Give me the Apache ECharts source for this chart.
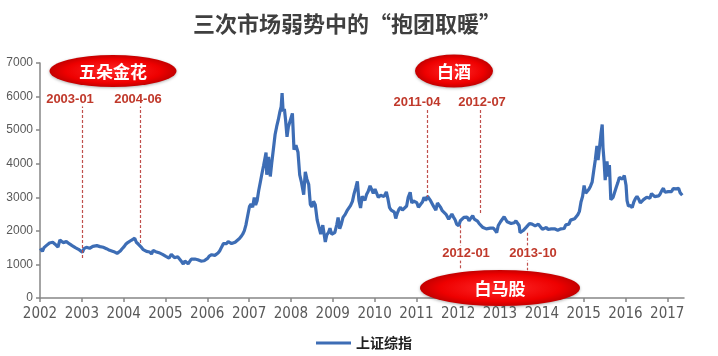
<!DOCTYPE html>
<html><head><meta charset="utf-8">
<script src="https://cdn.jsdelivr.net/npm/echarts@6/dist/echarts.min.js"></script>
<style>html,body{margin:0;padding:0;background:#fff}#c{width:718px;height:356px}</style>
</head><body><div id="c"></div>
<script>
const years = [2002,2003,2004,2005,2006,2007,2008,2009,2010,2011,2012,2013,2014,2015,2016,2017];
const seriesName = '上证综指';
const dates = [
'2002-01-04','2002-01-22','2002-02-05','2002-02-25','2002-03-11','2002-03-25','2002-04-08','2002-04-22','2002-05-10','2002-05-24','2002-06-07','2002-06-24','2002-07-08','2002-07-22','2002-08-05','2002-08-19','2002-09-02','2002-09-16','2002-10-08','2002-10-22','2002-11-05','2002-11-19','2002-12-03','2002-12-17',
'2003-01-06','2003-01-20','2003-02-10','2003-02-24','2003-03-10','2003-03-24','2003-04-07','2003-04-21','2003-05-12','2003-05-26','2003-06-09','2003-06-23','2003-07-07','2003-07-21','2003-08-04','2003-08-18','2003-09-01','2003-09-15','2003-10-08','2003-10-22','2003-11-05','2003-11-19','2003-12-03','2003-12-17',
'2004-01-05','2004-01-19','2004-02-09','2004-02-23','2004-03-08','2004-03-22','2004-04-07','2004-04-21','2004-05-10','2004-05-24','2004-06-07','2004-06-21','2004-07-05','2004-07-19','2004-08-02','2004-08-16','2004-09-01','2004-09-15','2004-10-08','2004-10-22','2004-11-05','2004-11-19','2004-12-06','2004-12-20',
'2005-01-05','2005-01-19','2005-02-01','2005-02-21','2005-03-07','2005-03-21','2005-04-04','2005-04-18','2005-05-09','2005-05-23','2005-06-06','2005-06-20','2005-07-04','2005-07-18','2005-08-01','2005-08-15','2005-09-01','2005-09-15','2005-10-10','2005-10-24','2005-11-07','2005-11-21','2005-12-05','2005-12-19',
'2006-01-04','2006-01-18','2006-02-08','2006-02-22','2006-03-08','2006-03-22','2006-04-05','2006-04-19','2006-05-08','2006-05-22','2006-06-05','2006-06-19','2006-07-03','2006-07-17','2006-08-01','2006-08-15','2006-09-01','2006-09-15','2006-10-09','2006-10-23','2006-11-06','2006-11-20','2006-12-04','2006-12-18',
'2007-01-04','2007-01-18','2007-02-01','2007-02-15','2007-02-27','2007-03-12','2007-03-26','2007-04-09','2007-04-23','2007-05-08','2007-05-29','2007-06-04','2007-06-20','2007-07-05','2007-07-19','2007-08-02','2007-08-16','2007-08-30','2007-09-13','2007-09-27','2007-10-08','2007-10-16','2007-10-25','2007-11-05','2007-11-15','2007-11-28','2007-12-10','2007-12-24',
'2008-01-14','2008-01-28','2008-02-14','2008-03-03','2008-03-18','2008-04-01','2008-04-22','2008-05-06','2008-05-20','2008-06-05','2008-06-19','2008-07-03','2008-07-17','2008-08-01','2008-08-18','2008-09-03','2008-09-18','2008-10-06','2008-10-28','2008-11-10','2008-11-25','2008-12-08','2008-12-22',
'2009-01-05','2009-01-19','2009-02-05','2009-02-17','2009-03-03','2009-03-17','2009-04-01','2009-04-20','2009-05-06','2009-05-20','2009-06-05','2009-06-22','2009-07-06','2009-07-20','2009-08-04','2009-08-18','2009-09-01','2009-09-15','2009-10-09','2009-10-23','2009-11-06','2009-11-23','2009-12-07','2009-12-21',
'2010-01-05','2010-01-19','2010-02-03','2010-02-24','2010-03-10','2010-03-24','2010-04-14','2010-04-28','2010-05-12','2010-05-26','2010-06-09','2010-06-23','2010-07-05','2010-07-19','2010-08-02','2010-08-16','2010-09-01','2010-09-15','2010-10-08','2010-10-22','2010-11-08','2010-11-22','2010-12-06','2010-12-20',
'2011-01-05','2011-01-19','2011-02-09','2011-02-23','2011-03-09','2011-03-23','2011-04-08','2011-04-20','2011-05-05','2011-05-19','2011-06-02','2011-06-20','2011-07-04','2011-07-18','2011-08-01','2011-08-15','2011-09-01','2011-09-19','2011-10-10','2011-10-24','2011-11-07','2011-11-21','2011-12-05','2011-12-19',
'2012-01-06','2012-01-20','2012-02-06','2012-02-20','2012-03-05','2012-03-19','2012-04-05','2012-04-19','2012-05-07','2012-05-21','2012-06-04','2012-06-18','2012-07-02','2012-07-16','2012-08-01','2012-08-15','2012-09-03','2012-09-17','2012-10-08','2012-10-22','2012-11-05','2012-11-19','2012-12-03','2012-12-17',
'2013-01-07','2013-01-21','2013-02-06','2013-02-20','2013-03-04','2013-03-18','2013-04-08','2013-04-22','2013-05-06','2013-05-20','2013-06-03','2013-06-17','2013-06-25','2013-07-08','2013-07-22','2013-08-05','2013-08-19','2013-09-02','2013-09-16','2013-10-08','2013-10-22','2013-11-04','2013-11-18','2013-12-02','2013-12-16',
'2014-01-06','2014-01-20','2014-02-10','2014-02-24','2014-03-10','2014-03-24','2014-04-08','2014-04-22','2014-05-06','2014-05-20','2014-06-03','2014-06-17','2014-07-01','2014-07-15','2014-07-29','2014-08-12','2014-08-26','2014-09-09','2014-09-23','2014-10-14','2014-10-28','2014-11-11','2014-11-25','2014-12-09','2014-12-23',
'2015-01-05','2015-01-19','2015-02-02','2015-02-16','2015-03-02','2015-03-16','2015-03-30','2015-04-13','2015-04-27','2015-05-07','2015-05-21','2015-06-02','2015-06-12','2015-06-19','2015-06-29','2015-07-08','2015-07-24','2015-08-03','2015-08-14','2015-08-26','2015-09-15','2015-10-12','2015-10-26','2015-11-09','2015-11-23','2015-12-07','2015-12-22',
'2016-01-06','2016-01-15','2016-01-27','2016-02-15','2016-02-29','2016-03-14','2016-03-28','2016-04-11','2016-04-25','2016-05-10','2016-05-24','2016-06-07','2016-06-21','2016-07-05','2016-07-19','2016-08-02','2016-08-16','2016-08-30','2016-09-13','2016-09-27','2016-10-17','2016-10-31','2016-11-14','2016-11-28','2016-12-12','2016-12-26',
'2017-01-09','2017-01-23','2017-02-08','2017-02-22','2017-03-08','2017-03-22','2017-04-10','2017-04-24','2017-05-12'
];
const values = [
1480,1390,1500,1560,1600,1640,1620,1660,1610,1560,1520,1730,1700,1650,1640,1680,1650,1610,1560,1540,1500,1480,1450,1400,
1360,1470,1510,1500,1480,1490,1540,1590,1560,1580,1530,1490,1510,1490,1470,1440,1420,1390,1380,1360,1330,1320,1400,1460,
1530,1600,1660,1700,1720,1690,1780,1660,1600,1560,1500,1440,1420,1390,1350,1370,1310,1420,1380,1330,1350,1340,1300,1270,
1240,1200,1190,1300,1290,1200,1170,1230,1140,1080,1010,1100,1060,1020,1090,1160,1170,1160,1140,1100,1100,1090,1110,1140,
1180,1250,1290,1300,1270,1290,1340,1400,1530,1620,1640,1620,1680,1700,1620,1630,1660,1700,1770,1830,1900,2000,2170,2420,
2720,2800,2700,2990,2770,2900,3200,3450,3700,3950,4330,3670,4200,3620,4060,4460,4870,5110,5310,5550,5700,6100,5560,5630,5320,4800,5100,5100,
5500,4420,4550,4340,3670,3470,3080,3760,3540,3380,2790,2710,2880,2780,2320,2300,1900,2170,1670,1880,1950,2080,1900,
1890,1950,2180,2400,2060,2200,2400,2490,2600,2640,2750,2880,3100,3270,3470,2900,2680,3030,2910,3080,3170,3340,3290,3120,
3240,3250,3000,3060,3050,3020,3160,2950,2690,2620,2590,2560,2370,2530,2640,2700,2620,2630,2740,3000,3150,2830,2890,2870,
2840,2700,2800,2860,3000,2900,3030,3020,2900,2850,2720,2620,2830,2800,2700,2600,2560,2480,2350,2390,2500,2410,2330,2200,
2150,2300,2330,2400,2440,2410,2300,2370,2450,2350,2310,2290,2220,2170,2110,2120,2060,2040,2080,2130,2080,2020,1950,2160,
2280,2320,2420,2400,2270,2260,2220,2190,2240,2300,2300,2160,1950,2000,2010,2060,2110,2100,2220,2200,2180,2150,2200,2200,2150,
2050,2010,2100,2040,1990,2060,2100,2060,2030,2020,2040,2060,2050,2070,2180,2220,2200,2320,2340,2360,2370,2480,2580,2860,3030,
3350,3120,3130,3240,3330,3450,3790,4120,4530,4110,4530,4910,5170,4480,4050,3510,4070,3620,3960,2930,3000,3290,3430,3590,3610,3540,3650,
3360,2900,2740,2750,2690,2860,2960,3030,2950,2830,2820,2930,2880,3000,3040,2970,3110,3070,3020,2990,3040,3100,3200,3270,3150,3120,
3170,3140,3170,3260,3240,3250,3270,3130,3060
];
// annotation markers (dashed lines)
const markerLabels = ['2003-01','2004-06','2011-04','2012-07','2012-01','2013-10'];
const markerDates  = ['2003-01-08','2004-05-22','2011-04-08','2012-07-16','2012-01-16','2013-08-28'];
const markerTop    = [5750,5750,5600,5600,2170,1940];
const markerBottom = [1190,1640,3010,2470,830,830];
const bubbleTexts  = ['五朵金花','白酒','白马股'];

function toYear(s){
  const p = s.split('-').map(Number);
  const a = Date.UTC(p[0],0,1), b = Date.UTC(p[0]+1,0,1);
  return p[0] + (Date.UTC(p[0],p[1]-1,p[2]) - a)/(b - a);
}
const seriesData = dates.map((d,i)=>[toYear(d), values[i]]);

const redGrad = new echarts.graphic.RadialGradient(0.5,0.5,0.5,[
  {offset:0,color:'#ff2a2a'},{offset:0.75,color:'#ee0000'},{offset:1,color:'#c40000'}
]);
const labelColor = '#c0392b';
const labelPos = [[70,99],[138,99],[417,102],[482,102],[466,253],[533,253]];
const bubblePos = [[113,71,127,32],[454,71,78,33],[500,288,160,36]];

const graphics = [];
bubblePos.forEach((b,i)=>{
  graphics.push({type:'circle', z:100, x:b[0], y:b[1], scaleX:b[2]/b[3], shape:{cx:0,cy:0,r:b[3]/2},
    style:{fill:redGrad, shadowBlur:3, shadowColor:'rgba(0,0,0,0.3)', shadowOffsetY:1}});
  graphics.push({type:'text', z:101, x:b[0], y:b[1]+1, style:{text:bubbleTexts[i], fill:'#fff',
    font:'bold 17px "Noto Sans CJK SC"', align:'center', verticalAlign:'middle'}});
});
markerLabels.forEach((t,i)=>{
  graphics.push({type:'text', z:90, x:labelPos[i][0], y:labelPos[i][1], style:{text:t, fill:labelColor,
    font:'bold 13px "Liberation Sans"', align:'center', verticalAlign:'middle',
    backgroundColor:'#fff', padding:[1,0]}});
});

const chart = echarts.init(document.getElementById('c'), null, {renderer:'canvas'});
chart.setOption({
  animation:false,
  backgroundColor:'#fff',
  title:{text:'三次市场弱势中的“抱团取暖”', left:188, top:8,
    textStyle:{fontSize:22, fontWeight:'bold', color:'#3f3f3f', fontFamily:'"Noto Sans CJK SC"'}},
  grid:{left:40, right:34, top:63, bottom:58},
  legend:{data:[seriesName], left:311, top:331, icon:'rect', itemWidth:35, itemHeight:3, itemGap:4,
    textStyle:{fontSize:14, fontWeight:'bold', color:'#222', fontFamily:'"Noto Sans CJK SC"'}},
  xAxis:{type:'value', min:2002, max:2017.4,
    axisLine:{show:true, lineStyle:{color:'#868686', width:1.5}},
    axisTick:{show:true, length:4, customValues:years, lineStyle:{color:'#868686', width:1.5}},
    axisLabel:{customValues:years, formatter:v=>String(Math.round(v)), margin:9,
      fontSize:15, color:'#595959', fontFamily:'"Liberation Sans Narrow","DejaVu Sans Condensed","Liberation Sans"'},
    splitLine:{show:false}},
  yAxis:{type:'value', min:0, max:7000, interval:1000,
    axisLine:{show:true, lineStyle:{color:'#868686', width:1.5}},
    axisTick:{show:true, length:4, lineStyle:{color:'#868686', width:1.5}},
    axisLabel:{fontSize:12, color:'#595959', margin:7, fontFamily:'"Liberation Sans"', formatter:v=>String(v)},
    splitLine:{show:false}},
  series:[{
    name:seriesName, type:'line', data:seriesData, showSymbol:false, symbol:'none',
    lineStyle:{color:'#3d6db5', width:3.2}, itemStyle:{color:'#3d6db5'},
    markLine:{silent:true, symbol:'none', label:{show:false},
      lineStyle:{type:[3,2], color:'#c0504d', width:1.2},
      data: markerDates.map((d,i)=>[{coord:[toYear(d), markerTop[i]]},{coord:[toYear(d), markerBottom[i]]}])}
  }],
  graphic:graphics
});
</script></body></html>
